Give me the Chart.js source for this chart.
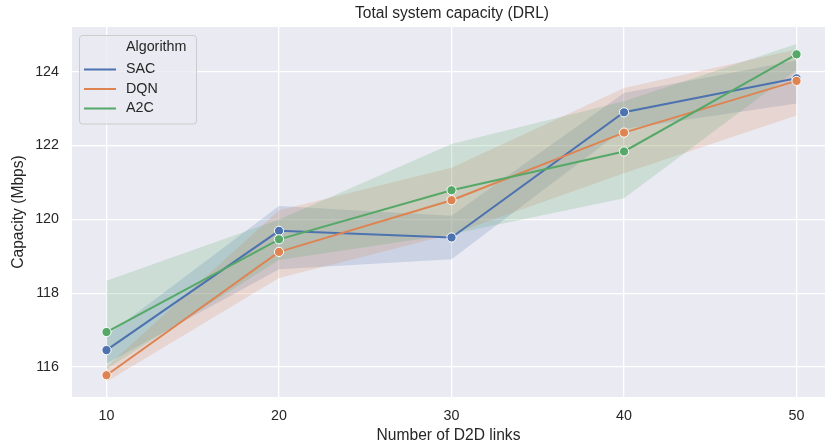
<!DOCTYPE html>
<html>
<head>
<meta charset="utf-8">
<script src="https://cdn.jsdelivr.net/npm/chart.js@4.4.1/dist/chart.umd.min.js"></script>
<style>
  html, body { margin: 0; padding: 0; background: #fff; overflow: hidden; }
  #wrap { width: 825px; height: 447px; }
</style>
</head>
<body>
<div id="wrap"><canvas id="chart" width="825" height="447"></canvas></div>
<script>
// Data
const links = [10, 20, 30, 40, 50];
const algorithms = ["SAC", "DQN", "A2C"];

const sacMean = [116.46, 119.69, 119.51, 122.9, 123.82];
const sacLow = [116.1, 118.65, 118.92, 122.45, 123.14];
const sacHigh = [116.85, 120.36, 120.1, 123.42, 124.3];

const dqnMean = [115.78, 119.12, 120.52, 122.35, 123.75];
const dqnLow = [115.6, 118.41, 119.6, 121.25, 122.81];
const dqnHigh = [116.0, 120.25, 121.4, 123.56, 124.6];

const a2cMean = [116.95, 119.46, 120.79, 121.84, 124.47];
const a2cLow = [115.95, 118.9, 119.6, 120.57, 124.05];
const a2cHigh = [118.34, 120.0, 122.04, 123.2, 124.75];

const xTicks = [10, 20, 30, 40, 50];
const yTicks = [116, 118, 120, 122, 124];

const colors = ["#4c72b0", "#dd8452", "#55a868"];
const bands = ["rgba(76,114,176,0.2)", "rgba(221,132,82,0.2)", "rgba(85,168,104,0.2)"];

function pts(values) {
  return links.map((x, i) => ({ x: x, y: values[i] }));
}

const series = [
  { mean: sacMean, low: sacLow, high: sacHigh },
  { mean: dqnMean, low: dqnLow, high: dqnHigh },
  { mean: a2cMean, low: a2cLow, high: a2cHigh },
];

// bands go under every line, like matplotlib zorder
const datasets = [];
series.forEach((s, k) => {
  const bandOrder = 10 - k; // later series band on top of earlier bands
  const lowIndex = datasets.length;
  datasets.push({
    data: pts(s.low),
    borderWidth: 0,
    borderColor: "transparent",
    pointRadius: 0,
    fill: false,
    order: bandOrder,
  });
  datasets.push({
    data: pts(s.high),
    borderWidth: 0,
    borderColor: "transparent",
    backgroundColor: bands[k],
    pointRadius: 0,
    fill: lowIndex,
    order: bandOrder,
  });
  datasets.push({
    label: algorithms[k],
    data: pts(s.mean),
    borderColor: colors[k],
    backgroundColor: colors[k],
    borderWidth: 2,
    pointRadius: 4.6,
    pointBorderColor: "#ffffff",
    pointBorderWidth: 1,
    pointBackgroundColor: colors[k],
    fill: false,
    order: 2 - k,
  });
});

// plot background
const backgroundPlugin = {
  id: "plotBackground",
  beforeDraw(chart) {
    const a = chart.chartArea;
    const ctx = chart.ctx;
    ctx.save();
    ctx.fillStyle = "#eaeaf2";
    ctx.fillRect(a.left, a.top, a.right - a.left, a.bottom - a.top);
    ctx.restore();
  },
};

// title and legend box
const decorPlugin = {
  id: "decor",
  afterDraw(chart) {
    const ctx = chart.ctx;
    ctx.save();
    ctx.fillStyle = "#262626";
    ctx.font = "15.6px 'Liberation Sans', Arial, sans-serif";
    ctx.textAlign = "center";
    ctx.textBaseline = "middle";
    ctx.fillText("Total system capacity (DRL)", 452, 14);

    // legend
    const x0 = 79.5, y0 = 35.5, w = 117, h = 88.5;
    ctx.beginPath();
    ctx.roundRect(x0, y0, w, h, 3);
    ctx.fillStyle = "rgba(234,234,242,0.8)";
    ctx.fill();
    ctx.strokeStyle = "#cccccc";
    ctx.lineWidth = 1;
    ctx.stroke();

    ctx.fillStyle = "#262626";
    ctx.font = "14.3px 'Liberation Sans', Arial, sans-serif";
    ctx.textAlign = "left";
    ctx.fillText("Algorithm", 126, 47);
    algorithms.forEach((name, i) => {
      const y = 69.5 + i * 19.5;
      ctx.beginPath();
      ctx.moveTo(84, y);
      ctx.lineTo(116, y);
      ctx.strokeStyle = colors[i];
      ctx.lineWidth = 2;
      ctx.stroke();
      ctx.fillStyle = "#262626";
      ctx.fillText(name, 126, y);
    });
    ctx.restore();
  },
};

const tickFont = { family: "'Liberation Sans', Arial, sans-serif", size: 14.3 };
const labelFont = { family: "'Liberation Sans', Arial, sans-serif", size: 15.6 };

new Chart(document.getElementById("chart"), {
  type: "line",
  data: { datasets: datasets },
  options: {
    responsive: false,
    animation: false,
    events: [],
    layout: { autoPadding: false, padding: { top: 27, left: 0, right: 0, bottom: 0 } },
    plugins: {
      legend: { display: false },
      title: { display: false },
      tooltip: { enabled: false },
    },
    scales: {
      x: {
        type: "linear",
        min: 8,
        max: 51.65,
        afterBuildTicks(scale) {
          scale.ticks = xTicks.map((v) => ({ value: v }));
        },
        afterFit(scale) {
          scale.height = 50;
          scale.paddingLeft = 0;
          scale.paddingRight = 0;
        },
        grid: { color: "#ffffff", lineWidth: 1.3, drawTicks: false },
        border: { display: false },
        ticks: { color: "#262626", font: tickFont, padding: 10, maxRotation: 0 },
        title: {
          display: true,
          text: "Number of D2D links",
          color: "#262626",
          font: labelFont,
          padding: { top: 0, bottom: 2 },
        },
      },
      y: {
        type: "linear",
        min: 115.19,
        max: 125.21,
        afterBuildTicks(scale) {
          scale.ticks = yTicks.map((v) => ({ value: v }));
        },
        afterFit(scale) {
          scale.width = 72;
          scale.paddingTop = 0;
          scale.paddingBottom = 0;
        },
        grid: { color: "#ffffff", lineWidth: 1.3, drawTicks: false },
        border: { display: false },
        ticks: { color: "#262626", font: tickFont, padding: 13 },
        title: {
          display: true,
          text: "Capacity (Mbps)",
          color: "#262626",
          font: labelFont,
          padding: { top: 9, bottom: 0 },
        },
      },
    },
  },
  plugins: [backgroundPlugin, decorPlugin],
});
</script>
</body>
</html>
